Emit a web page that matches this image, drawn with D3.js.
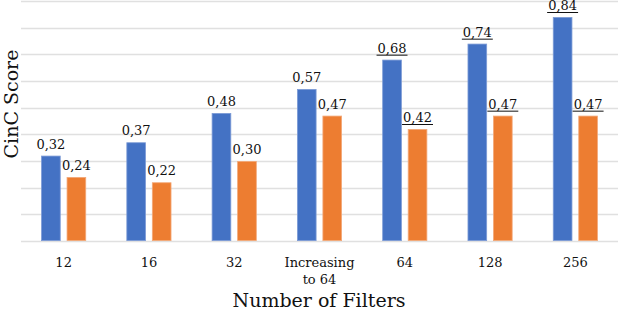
<!DOCTYPE html>
<html><head><meta charset="utf-8">
<script src="https://cdn.jsdelivr.net/npm/d3@7"></script>
<style>body{margin:0;background:#fff}svg{display:block}</style>
</head><body><svg id="c" width="618" height="310" font-family="'DejaVu Serif', 'Liberation Serif', serif"></svg>
<script>
const categories = ["12","16","32","Increasing\nto 64","64","128","256"];
const seriesA = [0.32,0.37,0.48,0.57,0.68,0.74,0.84];
const seriesB = [0.24,0.22,0.30,0.47,0.42,0.47,0.47];
const underlinedA = [false,false,false,false,true,true,true];
const underlinedB = [false,false,false,false,true,true,true];
const yTicks = [0,0.1,0.2,0.3,0.4,0.5,0.6,0.7,0.8,0.9];
const colors = ["#4472C4","#ED7D31"];
const edgeColors = ["#7d9bd6","#f3a97a"];

(function(){
const svg = d3.select("#c");
const mLeft = 21, mRight = 618, mTop = 1, mBottom = 241;
const x = d3.scaleBand().domain(categories).range([mLeft, mRight]).padding(0);
const y = d3.scaleLinear().domain([0,0.9]).range([mBottom, mTop]);
const barW = 19.5, gap = 6;

svg.append("g").selectAll("line").data(yTicks).join("line")
  .attr("x1", mLeft).attr("x2", mRight)
  .attr("y1", d => Math.round(y(d))+0.5).attr("y2", d => Math.round(y(d))+0.5)
  .attr("stroke", "#e0e0e0").attr("stroke-width", 1.4);

const series = [seriesA, seriesB];
const unders = [underlinedA, underlinedB];
series.forEach((vals, si) => {
  const g = svg.append("g");
  const xpos = (c) => x(c) + x.bandwidth()/2 + (si === 0 ? -gap/2 - barW : gap/2);
  g.selectAll("rect").data(categories).join("rect")
    .attr("x", (c) => xpos(c) + 0.4)
    .attr("y", (c,i) => y(vals[i]) + 0.4)
    .attr("width", barW - 0.8)
    .attr("height", (c,i) => y(0) - y(vals[i]) - 0.8)
    .attr("fill", colors[si])
    .attr("stroke", edgeColors[si]).attr("stroke-width", 0.8);
  const lab = g.selectAll("text").data(categories).join("text")
    .attr("x", c => xpos(c) + barW/2)
    .attr("y", (c,i) => y(vals[i]) - 7)
    .attr("text-anchor", "middle")
    .attr("font-size", 13)
    .attr("fill", "#111")
    .text((c,i) => vals[i].toFixed(2).replace(".", ","));
  lab.each(function(c,i){
    if (!unders[si][i]) return;
    const bb = this.getBBox();
    g.append("line").attr("x1", bb.x - 1).attr("x2", bb.x + bb.width + 1)
      .attr("y1", y(vals[i]) - 4.5).attr("y2", y(vals[i]) - 4.5)
      .attr("stroke", "#111").attr("stroke-width", 1);
  });
});

const xt = svg.append("g").selectAll("text").data(categories).join("text")
  .attr("x", c => x(c) + x.bandwidth()/2)
  .attr("y", 267)
  .attr("text-anchor", "middle")
  .attr("font-size", 13)
  .attr("fill", "#111");
xt.each(function(c){
  const lines = c.split("\n");
  d3.select(this).selectAll("tspan").data(lines).join("tspan")
    .attr("x", x(c) + x.bandwidth()/2)
    .attr("dy", (d,i) => i === 0 ? 0 : 17)
    .text(d => d);
});

svg.append("text").attr("x", 319).attr("y", 307)
  .attr("text-anchor", "middle").attr("font-size", 19).attr("fill", "#111").text("Number of Filters");
svg.append("text").attr("transform", "translate(17.5,104) rotate(-90)")
  .attr("text-anchor", "middle").attr("font-size", 19).attr("fill", "#111").text("CinC Score");
})();
</script></body></html>
